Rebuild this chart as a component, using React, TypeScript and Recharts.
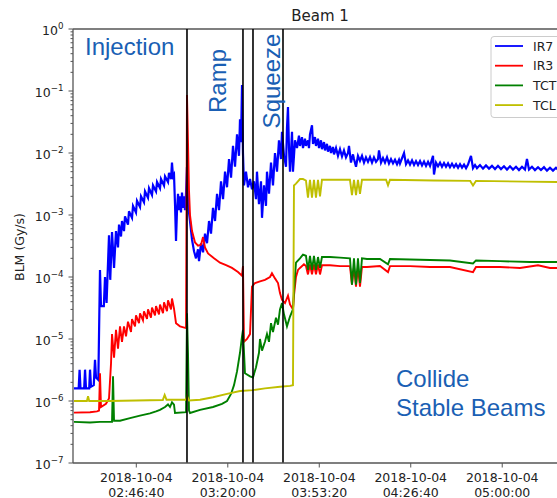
import React from 'react';
import { LineChart, Line, XAxis, YAxis, ReferenceLine } from 'recharts';

// time in seconds since 2018-10-04 00:00:00, value in Gy/s
const ir7: [number, number][] = [
  [8638, 1.6e-6], [8740, 1.6e-6], [8760, 3.2e-6], [8780, 1.6e-6], [8860, 1.6e-6], [8879, 3.2e-6],
  [8900, 1.6e-6], [8970, 1.6e-6], [8988, 3.2e-6], [9010, 1.7e-6], [9070, 1.8e-6], [9097, 4.6e-6],
  [9119, 2.4e-6], [9170, 2.2e-6], [9206, 1.3e-4], [9228, 3.4e-5], [9290, 3.4e-5], [9316, 1.0e-4],
  [9350, 3.8e-5], [9403, 4.7e-4], [9430, 9e-5], [9469, 5.3e-4], [9513, 1.4e-4], [9556, 5.5e-4],
  [9600, 3.0e-4], [9622, 7e-4], [9666, 4.5e-4], [9687, 8e-4], [9731, 5.5e-4], [9753, 9.5e-4],
  [9818, 7e-4], [9840, 1.15e-3], [9906, 9e-4], [9928, 1.4e-3], [9993, 1.1e-3], [10015, 1.7e-3],
  [10081, 1.35e-3], [10103, 2.0e-3], [10168, 1.6e-3], [10190, 2.4e-3], [10256, 1.9e-3], [10278, 2.7e-3],
  [10343, 2.1e-3], [10365, 3.0e-3], [10431, 2.4e-3], [10453, 3.4e-3], [10518, 2.7e-3], [10540, 3.8e-3],
  [10606, 3.0e-3], [10628, 4.2e-3], [10693, 3.4e-3], [10715, 4.8e-3], [10759, 3.8e-3], [10780, 7.0e-3],
  [10802, 4.2e-3], [10824, 4.5e-3], [10846, 1.5e-3], [10868, 3.8e-4], [10890, 1.2e-3], [10912, 2.2e-3],
  [10933, 1.2e-3], [10955, 2.0e-3], [10977, 1.1e-3], [10999, 2.3e-3], [11021, 1.3e-3], [11043, 2.0e-3],
  [11065, 1.2e-3], [11087, 2.2e-3], [11108, 6e-3], [11130, 1.5e-3], [11174, 8e-4], [11218, 4e-4],
  [11262, 2.6e-4], [11305, 2.0e-4], [11349, 2.8e-4], [11371, 1.8e-4], [11415, 3.5e-4], [11459, 2.5e-4],
  [11502, 5e-4], [11546, 3.5e-4], [11590, 8e-4], [11633, 5e-4], [11677, 1.3e-3], [11721, 8e-4],
  [11765, 2.2e-3], [11808, 1.2e-3], [11852, 3.5e-3], [11896, 1.8e-3], [11940, 5e-3], [11983, 2.8e-3],
  [12027, 8e-3], [12071, 4e-3], [12114, 1.3e-2], [12158, 6e-3], [12202, 2.0e-2], [12245, 9e-3],
  [12267, 3.5e-2], [12289, 1.5e-2], [12311, 1.25e-1], [12332, 1.0e-2], [12354, 3.0e-3], [12398, 5e-3],
  [12442, 2.8e-3], [12486, 3.8e-3], [12529, 2.6e-3], [12573, 3.5e-3], [12617, 1.8e-3], [12638, 5e-3],
  [12682, 1.5e-3], [12726, 3.5e-3], [12748, 9e-4], [12792, 3e-3], [12835, 1.4e-3], [12857, 5e-3],
  [12901, 2.2e-3], [12945, 7e-3], [12988, 3e-3], [13032, 1.0e-2], [13076, 5e-3], [13119, 1.6e-2],
  [13163, 8e-3], [13185, 2.2e-2], [13229, 9e-3], [13273, 6e-3], [13294, 2.5e-2], [13316, 5.5e-2],
  [13338, 1.2e-2], [13360, 5e-3], [13404, 2.2e-2], [13425, 5e-3], [13469, 1.6e-2], [13513, 1.2e-2],
  [13556, 1.9e-2], [13578, 1.3e-2], [13622, 1.8e-2], [13644, 1.2e-2], [13687, 1.7e-2], [13709, 1.3e-2],
  [13753, 1.6e-2], [13775, 1.2e-2], [13797, 2.0e-2], [13841, 2.8e-2], [13863, 1.4e-2], [13906, 1.8e-2],
  [13928, 1.3e-2], [13972, 1.7e-2], [13994, 1.2e-2], [14037, 1.6e-2], [14059, 1.15e-2], [14103, 1.5e-2],
  [14125, 1.1e-2], [14168, 1.4e-2], [14190, 1.05e-2], [14234, 1.3e-2], [14256, 1.0e-2], [14300, 1.25e-2],
  [14322, 9.5e-3], [14366, 1.2e-2], [14409, 9e-3], [14453, 1.15e-2], [14497, 8.8e-3], [14540, 1.1e-2],
  [14584, 8.5e-3], [14628, 1.0e-2], [14650, 1.3e-2], [14693, 7e-3], [14737, 9.5e-3], [14759, 8e-3],
  [14803, 6e-3], [14846, 9e-3], [14890, 7.5e-3], [14934, 9e-3], [14978, 7e-3], [15021, 8.5e-3],
  [15065, 7.2e-3], [15109, 8.6e-3], [15153, 7e-3], [15196, 8.5e-3], [15240, 7.2e-3], [15284, 8e-3],
  [15306, 1.1e-2], [15350, 7e-3], [15393, 8.3e-3], [15437, 7e-3], [15481, 8.5e-3], [15524, 6.8e-3],
  [15568, 8e-3], [15612, 6.8e-3], [15656, 7.8e-3], [15700, 6.6e-3], [15743, 7.8e-3], [15765, 6.8e-3],
  [15853, 1.0e-2], [15896, 6.6e-3], [15940, 7.6e-3], [15984, 6.5e-3], [16028, 7.6e-3], [16072, 6.4e-3],
  [16115, 7.4e-3], [16159, 6.4e-3], [16203, 7.4e-3], [16246, 6.3e-3], [16290, 7.3e-3], [16334, 6.2e-3],
  [16378, 7.2e-3], [16421, 6.2e-3], [16487, 9e-3], [16508, 4.5e-3], [16552, 7e-3], [16596, 6.1e-3],
  [16640, 7e-3], [16683, 6.0e-3], [16727, 6.9e-3], [16771, 6.0e-3], [16815, 6.8e-3], [16858, 5.9e-3],
  [16902, 6.7e-3], [16946, 5.9e-3], [16990, 6.6e-3], [17034, 5.8e-3], [17077, 6.6e-3], [17121, 5.8e-3],
  [17165, 6.5e-3], [17209, 5.7e-3], [17252, 6.5e-3], [17317, 9e-3], [17361, 5.7e-3], [17405, 6.4e-3],
  [17448, 5.7e-3], [17514, 6.4e-3], [17580, 5.6e-3], [17645, 6.3e-3], [17711, 5.6e-3], [17776, 6.2e-3],
  [17842, 5.5e-3], [17907, 6.2e-3], [17973, 5.5e-3], [18038, 6.1e-3], [18104, 5.4e-3], [18170, 6.1e-3],
  [18235, 5.4e-3], [18301, 6.0e-3], [18366, 5.3e-3], [18432, 6.0e-3], [18497, 5.4e-3], [18541, 8e-3],
  [18585, 5.4e-3], [18650, 6.0e-3], [18716, 5.3e-3], [18782, 5.9e-3], [18847, 5.3e-3], [18913, 5.9e-3],
  [18978, 5.2e-3], [19044, 5.8e-3], [19110, 5.2e-3], [19175, 5.8e-3], [19241, 5.2e-3], [19306, 5.7e-3],
  [19372, 5.2e-3], [19416, 5.6e-3],
];

const ir3: [number, number][] = [
  [8638, 6.5e-7], [8988, 6.6e-7], [9141, 6.8e-7], [9185, 7e-7], [9206, 2.8e-6], [9228, 8e-7],
  [9337, 9e-7], [9403, 1.1e-6], [9447, 4e-6], [9469, 1.2e-5], [9513, 5e-6], [9556, 1.4e-5],
  [9600, 7e-6], [9644, 1.6e-5], [9687, 9e-6], [9731, 1.6e-5], [9775, 1.1e-5], [9818, 1.9e-5],
  [9884, 1.3e-5], [9906, 2.1e-5], [9972, 1.6e-5], [9993, 2.4e-5], [10059, 1.8e-5], [10081, 2.6e-5],
  [10146, 2.0e-5], [10168, 2.8e-5], [10234, 2.1e-5], [10256, 3.0e-5], [10321, 2.2e-5], [10343, 3.2e-5],
  [10409, 2.4e-5], [10431, 3.4e-5], [10496, 2.5e-5], [10518, 3.6e-5], [10584, 2.6e-5], [10606, 3.9e-5],
  [10671, 2.8e-5], [10693, 4.2e-5], [10759, 3.0e-5], [10780, 4.5e-5], [10824, 3.1e-5], [10868, 1.8e-5],
  [10955, 1.6e-5], [11087, 1.5e-5], [11108, 8.6e-2], [11130, 1.5e-2], [11152, 2.5e-3], [11174, 1.0e-3],
  [11218, 5.5e-4], [11284, 3.6e-4], [11349, 3.2e-4], [11415, 3.3e-4], [11459, 4.4e-4], [11502, 3.0e-4],
  [11568, 2.4e-4], [11699, 2.0e-4], [11830, 1.7e-4], [11962, 1.55e-4], [12092, 1.4e-4], [12223, 1.2e-4],
  [12311, 1.05e-4], [12332, 1.5e-4], [12354, 9e-6], [12420, 1.0e-5], [12486, 1.2e-5], [12529, 7e-5],
  [12595, 8e-5], [12704, 8.5e-5], [12813, 9e-5], [12923, 1.0e-4], [12966, 1.15e-4], [13032, 9.5e-5],
  [13098, 8e-5], [13141, 5.5e-5], [13185, 4.3e-5], [13251, 3.8e-5], [13316, 5e-5], [13360, 3.6e-5],
  [13425, 3.0e-5], [13447, 5e-5], [13491, 1.0e-4], [13535, 1.3e-4], [13578, 1.4e-4], [13665, 1.6e-4],
  [13709, 1.5e-4], [13753, 1.1e-4], [13797, 1.6e-4], [13841, 1.1e-4], [13884, 1.6e-4], [13928, 1.1e-4],
  [13972, 1.6e-4], [14016, 1.1e-4], [14059, 1.55e-4], [14234, 1.55e-4], [14453, 1.5e-4], [14671, 1.5e-4],
  [14715, 7.5e-5], [14759, 1.45e-4], [14803, 7e-5], [14846, 1.45e-4], [14890, 7e-5], [14934, 1.45e-4],
  [15043, 1.45e-4], [15328, 1.5e-4], [15503, 1.2e-4], [15546, 1.5e-4], [15984, 1.5e-4], [16421, 1.45e-4],
  [16858, 1.45e-4], [17361, 1.2e-4], [17426, 1.45e-4], [17951, 1.45e-4], [18388, 1.4e-4], [18782, 1.55e-4],
  [19044, 1.4e-4], [19416, 1.4e-4],
];

const tct: [number, number][] = [
  [8638, 4.6e-7], [8988, 4.5e-7], [9206, 4.6e-7], [9469, 4.6e-7], [9491, 2.5e-6], [9513, 4.8e-7],
  [9644, 4.8e-7], [9862, 5.3e-7], [10081, 5.8e-7], [10299, 6.3e-7], [10431, 6.8e-7], [10518, 7.2e-7],
  [10628, 8e-7], [10693, 8.8e-7], [10737, 8e-7], [10780, 9.5e-7], [10824, 8.7e-7], [10846, 6.4e-7],
  [11087, 6.6e-7], [11108, 2.6e-5], [11130, 6e-6], [11152, 7e-7], [11174, 6.4e-7], [11393, 7.2e-7],
  [11677, 8e-7], [11874, 9e-7], [11983, 1.0e-6], [12071, 1.3e-6], [12136, 1.8e-6], [12202, 3e-6],
  [12267, 6e-6], [12311, 1.1e-5], [12332, 1.4e-5], [12376, 2.8e-6], [12486, 2.5e-6], [12551, 2.4e-6],
  [12617, 3.5e-6], [12682, 6e-6], [12704, 1.0e-5], [12748, 6.5e-6], [12813, 9e-6], [12857, 1.2e-5],
  [12901, 9e-6], [12945, 1.8e-5], [12988, 1.3e-5], [13054, 2.2e-5], [13098, 1.7e-5], [13141, 3.0e-5],
  [13185, 3.8e-5], [13229, 2.5e-5], [13294, 1.6e-5], [13360, 2.3e-5], [13425, 3.0e-5], [13447, 6e-5],
  [13491, 1.7e-4], [13578, 2.0e-4], [13644, 2.3e-4], [13709, 2.2e-4], [13753, 1.3e-4], [13797, 2.2e-4],
  [13841, 1.3e-4], [13884, 2.2e-4], [13928, 1.3e-4], [13972, 2.1e-4], [14016, 1.4e-4], [14059, 2.1e-4],
  [14234, 2.1e-4], [14453, 2.05e-4], [14671, 2.0e-4], [14715, 7.5e-5], [14759, 2.0e-4], [14803, 7.5e-5],
  [14846, 2.0e-4], [14890, 8e-5], [14934, 2.0e-4], [15043, 1.95e-4], [15328, 1.95e-4], [15503, 1.6e-4],
  [15546, 1.95e-4], [16203, 1.9e-4], [16858, 1.85e-4], [17361, 1.65e-4], [17426, 1.85e-4], [17951, 1.8e-4],
  [18607, 1.75e-4], [19416, 1.75e-4],
];

const tcl: [number, number][] = [
  [8638, 1.0e-6], [8920, 1.0e-6], [8945, 1.2e-6], [8970, 1.0e-6], [9400, 1.0e-6], [10000, 1.02e-6],
  [10580, 1.04e-6], [10620, 1.25e-6], [10660, 1.05e-6], [11087, 1.05e-6], [11108, 1.2e-6], [11152, 1.02e-6],
  [11393, 1.05e-6], [11677, 1.15e-6], [11983, 1.3e-6], [12267, 1.45e-6], [12551, 1.5e-6], [12813, 1.6e-6],
  [13141, 1.7e-6], [13360, 1.75e-6], [13425, 1.8e-6], [13447, 3.0e-3], [13491, 3.2e-3], [13578, 3.8e-3],
  [13644, 3.8e-3], [13709, 3.6e-3], [13753, 1.9e-3], [13797, 3.7e-3], [13841, 1.9e-3], [13884, 3.7e-3],
  [13928, 1.9e-3], [13972, 3.7e-3], [14016, 2.0e-3], [14059, 3.7e-3], [14453, 3.7e-3], [14671, 3.7e-3],
  [14715, 2.1e-3], [14759, 3.7e-3], [14803, 2.1e-3], [14846, 3.7e-3], [14890, 2.2e-3], [14934, 3.7e-3],
  [15460, 3.7e-3], [15503, 3.0e-3], [15546, 3.7e-3], [16500, 3.6e-3], [17300, 3.55e-3], [17361, 3.0e-3],
  [17426, 3.55e-3], [18500, 3.45e-3], [19416, 3.4e-3],
];

const seriesNames = ['IR7', 'IR3', 'TCT', 'TCL'];
const seriesColors = ['#0000ff', '#ff0000', '#008000', '#bfbf00'];
const seriesData = [ir7, ir3, tct, tcl];

const xTicks = [10000, 12000, 14000, 16000, 18000];
const xTickDates = ['2018-10-04', '2018-10-04', '2018-10-04', '2018-10-04', '2018-10-04'];
const xTickTimes = ['02:46:40', '03:20:00', '03:53:20', '04:26:40', '05:00:00'];
const xDomain: [number, number] = [8616, 19416];

const yExponents = [-7, -6, -5, -4, -3, -2, -1, 0];
const yMinorMultipliers = [2, 3, 4, 5, 6, 7, 8, 9];

const phaseBoundaries = [11108, 12332, 12551, 13207];

const majorTicks = yExponents.map((e) => Math.pow(10, e));
const minorTicks: number[] = [];
yExponents.slice(0, -1).forEach((e) => {
  yMinorMultipliers.forEach((m) => minorTicks.push(m * Math.pow(10, e)));
});
const allYTicks = [...majorTicks, ...minorTicks].sort((a, b) => a - b);

const FONT = '"DejaVu Sans", sans-serif';
const ANN = '"Liberation Sans", Arial, sans-serif';
const ANN_COLOR = '#1a5fb4';
const AXIS = '#555';

const YTick = (props: any) => {
  const { x, y, payload } = props;
  const v = payload.value as number;
  const lg = Math.log10(v);
  const major = Math.abs(lg - Math.round(lg)) < 1e-6;
  const e = Math.round(lg);
  return (
    <g>
      <line x1={x - (major ? 4.5 : 2.5)} x2={x} y1={y} y2={y} stroke={AXIS} strokeWidth={1} />
      {major && (
        <text x={x - 9.5} y={y + 5.5} textAnchor="end" fontSize={12.5} fill="#222" fontFamily={FONT}>
          10
          <tspan dy={-5.5} fontSize={8.7}>
            {e < 0 ? '\u2212' + Math.abs(e) : String(e)}
          </tspan>
        </text>
      )}
    </g>
  );
};

const XTick = (props: any) => {
  const { x, y, payload } = props;
  const i = xTicks.indexOf(payload.value);
  return (
    <g>
      <line x1={x} x2={x} y1={y} y2={y + 4.5} stroke={AXIS} strokeWidth={1} />
      <text x={x} y={y + 19} textAnchor="middle" fontSize={12.5} fill="#222" fontFamily={FONT}>
        {xTickDates[i]}
      </text>
      <text x={x} y={y + 33.5} textAnchor="middle" fontSize={12.5} fill="#222" fontFamily={FONT}>
        {xTickTimes[i]}
      </text>
    </g>
  );
};

export default function App() {
  return (
    <div style={{ position: 'absolute', left: 0, top: 0, width: 557, height: 498, overflow: 'hidden', background: '#fff' }}>
      <LineChart width={600} height={498} margin={{ top: 29, right: 33, bottom: 0, left: 0 }}>
        <XAxis
          type="number"
          dataKey="t"
          domain={xDomain}
          allowDataOverflow
          ticks={xTicks}
          interval={0}
          tickSize={0}
          tickMargin={0}
          tickLine={false}
          tick={<XTick />}
          height={35}
          axisLine={{ stroke: AXIS, strokeWidth: 1.3 }}
        />
        <YAxis
          type="number"
          scale="log"
          domain={[1e-7, 1]}
          allowDataOverflow
          ticks={allYTicks}
          interval={0}
          tickSize={0}
          tickMargin={0}
          tickLine={false}
          tick={<YTick />}
          width={73}
          axisLine={{ stroke: AXIS, strokeWidth: 1.3 }}
        />
        <ReferenceLine y={1} stroke={AXIS} strokeWidth={1.3} ifOverflow="visible" />
        {seriesData.map((d, i) => (
          <Line
            key={seriesNames[i]}
            data={d.map(([t, v]) => ({ t, v }))}
            dataKey="v"
            name={seriesNames[i]}
            stroke={seriesColors[i]}
            strokeWidth={i === 0 ? 2.2 : 1.9}
            dot={false}
            activeDot={false}
            isAnimationActive={false}
          />
        ))}
        {phaseBoundaries.map((t) => (
          <ReferenceLine key={t} x={t} stroke="#000" strokeWidth={1.6} />
        ))}
      </LineChart>
      <svg width={557} height={498} style={{ position: 'absolute', left: 0, top: 0, pointerEvents: 'none' }}>
        <text x={320} y={21} textAnchor="middle" fontSize={15} fill="#222" fontFamily={FONT}>Beam 1</text>
        <text transform="translate(24,247) rotate(-90)" textAnchor="middle" fontSize={12.5} fill="#222" fontFamily={FONT}>
          BLM (Gy/s)
        </text>
        <text x={85} y={55} fontSize={24} fill={ANN_COLOR} fontFamily={ANN}>Injection</text>
        <text transform="translate(226,81) rotate(-90)" textAnchor="middle" fontSize={24} fill={ANN_COLOR} fontFamily={ANN}>Ramp</text>
        <text transform="translate(280,81) rotate(-90)" textAnchor="middle" fontSize={24} fill={ANN_COLOR} fontFamily={ANN}>Squeeze</text>
        <text x={396} y={387} fontSize={24} fill={ANN_COLOR} fontFamily={ANN}>Collide</text>
        <text x={396} y={416} fontSize={24} fill={ANN_COLOR} fontFamily={ANN}>Stable Beams</text>
        <rect x={491} y={36.5} width={90} height={81} rx={3} fill="rgba(255,255,255,0.85)" stroke="#ccc" strokeWidth={1} />
        {seriesNames.map((n, i) => (
          <g key={n}>
            <line x1={495} x2={523} y1={46 + i * 19.7} y2={46 + i * 19.7} stroke={seriesColors[i]} strokeWidth={1.8} />
            <text x={533} y={46 + i * 19.7 + 4.5} fontSize={12.5} fill="#222" fontFamily={FONT}>{n}</text>
          </g>
        ))}
      </svg>
    </div>
  );
}
